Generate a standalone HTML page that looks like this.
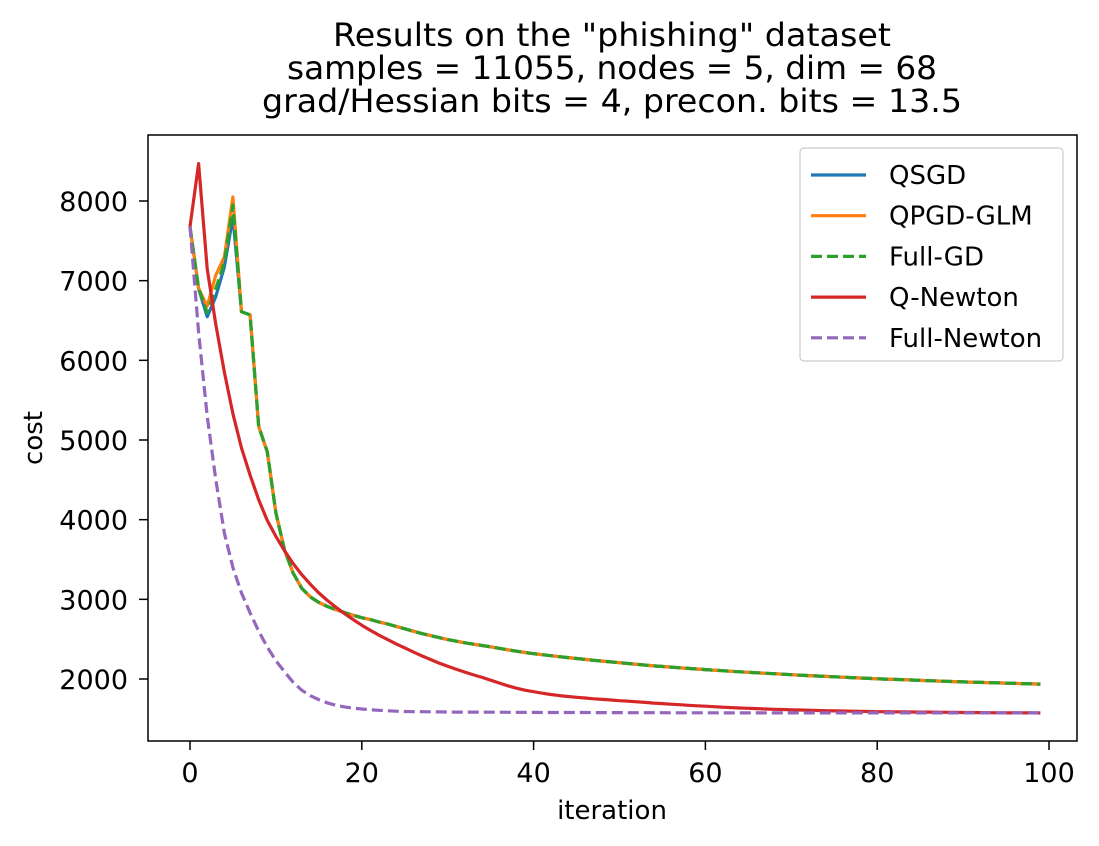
<!DOCTYPE html>
<html><head><meta charset="utf-8"><style>
body{margin:0;background:#fff;}
svg{display:block;font-family:"DejaVu Sans","Liberation Sans",sans-serif;}
</style></head><body>
<svg id="chart" width="1099" height="846">
<g font-size="32" text-anchor="middle" fill="#000">
<text x="612" y="46" textLength="558" lengthAdjust="spacingAndGlyphs">Results on the "phishing" dataset</text>
<text x="612" y="79" textLength="650" lengthAdjust="spacingAndGlyphs">samples = 11055, nodes = 5, dim = 68</text>
<text x="612" y="112" textLength="700" lengthAdjust="spacingAndGlyphs">grad/Hessian bits = 4, precon. bits = 13.5</text>
</g>
<g id="plot"></g>
<g id="axes"></g>
<text x="612" y="819" font-size="26" text-anchor="middle">iteration</text>
<text x="0" y="0" font-size="26" text-anchor="middle" transform="translate(42,438) rotate(-90)">cost</text>
<g id="legend"></g>
</svg>
<script>
const xTicks=[0,20,40,60,80,100];
const yTicks=[2000,3000,4000,5000,6000,7000,8000];
const seriesNames=["QSGD","QPGD-GLM","Full-GD","Q-Newton","Full-Newton"];
const gdTail=[3030,2960,2910,2870,2835,2800,2770,2745,2715,2690,2660,2630,2600,2570,2545,2520,2495,2475,2455,2437,2420,2404,2385,2366,2349,2333,2318,2305,2292,2280,2268,2257,2246,2235,2225,2215,2205,2195,2185,2175,2165,2157,2149,2141,2133,2125,2118,2111,2104,2097,2090,2084,2078,2072,2066,2060,2054,2048,2043,2038,2033,2028,2023,2018,2013,2008,2003,1999,1995,1991,1987,1983,1979,1975,1971,1967,1963,1960,1957,1954,1951,1948,1945,1942,1939,1936];
const qsgd=[7677,6900,6548,6800,7175,7800,6610,6570,5170,4850,4085,3620,3330,3140].concat(gdTail);
const qpgd=[7677,6900,6680,7070,7300,8050,6610,6570,5170,4850,4085,3620,3330,3140].concat(gdTail);
const fullGD=[7677,6900,6600,6900,7230,7950,6610,6570,5170,4850,4085,3620,3330,3140].concat(gdTail);
const qNewton=[7677,8470,7150,6450,5850,5330,4900,4560,4250,3990,3790,3610,3450,3310,3190,3080,2985,2900,2820,2745,2675,2610,2550,2495,2440,2390,2340,2290,2245,2200,2160,2122,2086,2052,2020,1985,1950,1915,1885,1860,1840,1822,1806,1792,1780,1770,1761,1752,1744,1736,1728,1721,1714,1706,1698,1691,1684,1677,1670,1664,1658,1652,1646,1641,1636,1632,1628,1624,1620,1617,1614,1611,1608,1605,1602,1600,1598,1596,1594,1592,1590,1589,1588,1587,1586,1585,1584,1583,1582,1581,1580,1579,1578,1577,1576,1575,1575,1574,1574,1573];
const fullNewton=[7677,6350,5300,4500,3830,3400,3080,2830,2600,2400,2230,2090,1960,1860,1790,1740,1700,1670,1650,1635,1623,1614,1607,1601,1596,1592,1590,1589,1588,1587,1586,1585,1585,1584,1584,1583,1583,1582,1582,1581,1581,1580,1580,1580,1579,1579,1579,1578,1578,1578,1578,1577,1577,1577,1577,1577,1576,1576,1576,1576,1576,1576,1575,1575,1575,1575,1575,1575,1575,1575,1575,1575,1575,1575,1575,1575,1575,1575,1575,1575,1575,1575,1575,1575,1575,1575,1575,1575,1575,1575,1575,1575,1575,1575,1575,1575,1575,1575,1575,1575];
const NS="http://www.w3.org/2000/svg";
const L=148,R=1077,T=135,B=741;
function xs(i){return 190+(i/100)*859;}
function ys(v){return 679-(v-2000)*478/6000;}
function mk(tag,attrs,parent){const e=document.createElementNS(NS,tag);for(const k in attrs)e.setAttribute(k,attrs[k]);parent.appendChild(e);return e;}
const plot=document.getElementById('plot'),axes=document.getElementById('axes'),leg=document.getElementById('legend');
const styles=[
 {d:qsgd,c:"#1f77b4",dash:null},
 {d:qpgd,c:"#ff7f0e",dash:null},
 {d:fullGD,c:"#2ca02c",dash:"11,5"},
 {d:qNewton,c:"#d62728",dash:null},
 {d:fullNewton,c:"#9467bd",dash:"11,5"}];
styles.forEach((s,k)=>{
 const pts=s.d.map((v,i)=>xs(i).toFixed(1)+","+ys(v).toFixed(1)).join(" ");
 const p=mk('polyline',{points:pts,fill:"none",stroke:s.c,"stroke-width":3.2,"stroke-linejoin":"round"},plot);
 if(s.dash)p.setAttribute('stroke-dasharray',s.dash);
 
 
});
const frame=mk('rect',{x:L,y:T,width:R-L,height:B-T,fill:"none",stroke:"#000","stroke-width":1.5},axes);


xTicks.forEach(t=>{
 const x=xs(t);
 const tk=mk('line',{x1:x,x2:x,y1:B,y2:B+9,stroke:"#000","stroke-width":1.5},axes);
 
 
 const tx=mk('text',{x:x,y:B+41,"font-size":27,"text-anchor":"middle"},axes);
 tx.textContent=t;
 
 
});
yTicks.forEach(t=>{
 const y=ys(t);
 const tk=mk('line',{x1:L-9,x2:L,y1:y,y2:y,stroke:"#000","stroke-width":1.5},axes);
 
 
 const tx=mk('text',{x:L-20,y:y+10,"font-size":27,"text-anchor":"end"},axes);
 tx.textContent=t;
 
 
});
const box=mk('rect',{x:800,y:148,width:263,height:213,rx:4,fill:"#fff","fill-opacity":0.8,stroke:"#ccc","stroke-width":1.2},leg);


styles.forEach((s,k)=>{
 const y=175+k*40.7;
 const ln=mk('line',{x1:811,x2:866,y1:y,y2:y,stroke:s.c,"stroke-width":3.2},leg);
 if(s.dash)ln.setAttribute('stroke-dasharray',s.dash);
 
 
 const tx=mk('text',{x:889,y:y+9,"font-size":26},leg);
 tx.textContent=seriesNames[k];
 
 
});
</script>
</body></html>
